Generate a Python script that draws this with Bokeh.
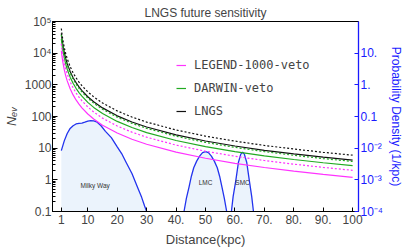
from bokeh.plotting import figure
from bokeh.models import Range1d, LogAxis, FixedTicker, Legend, LegendItem, Label, CustomJSTickFormatter
from bokeh.embed import file_html
from bokeh.resources import INLINE

# ---- data ----
distance = [1, 1.2, 1.5, 2, 2.5, 3, 4, 5, 6, 7, 8, 10, 12, 15, 20, 25, 30, 40, 50, 60, 70, 80, 90, 100]
lngs_dashed = [60000, 41700, 26700, 15000, 9600, 6670, 3750, 2400, 1670, 1220, 940, 600, 417, 267, 150, 96, 66.7, 37.5, 24, 16.7, 12.2, 9.4, 7.4, 6.0]
lngs_solid = [42000, 29200, 18700, 10500, 6720, 4670, 2630, 1680, 1170, 857, 656, 420, 292, 187, 105, 67.2, 46.7, 26.3, 16.8, 11.7, 8.57, 6.56, 5.19, 4.2]
darwin_dashed = [38000, 26400, 16900, 9500, 6080, 4220, 2380, 1520, 1060, 776, 594, 380, 264, 169, 95, 60.8, 42.2, 23.8, 15.2, 10.6, 7.76, 5.94, 4.69, 3.8]
darwin_solid = [28000, 19400, 12400, 7000, 4480, 3110, 1750, 1120, 778, 571, 438, 280, 194, 124, 70, 44.8, 31.1, 17.5, 11.2, 7.78, 5.71, 4.38, 3.46, 2.8]
legend_dashed = [20000, 13900, 8890, 5000, 3200, 2220, 1250, 800, 556, 408, 313, 200, 139, 88.9, 50, 32, 22.2, 12.5, 8, 5.56, 4.08, 3.13, 2.47, 2.0]
legend_solid = [12000, 8330, 5330, 3000, 1920, 1330, 750, 480, 333, 245, 188, 120, 83.3, 53.3, 30, 19.2, 13.3, 7.5, 4.8, 3.33, 2.45, 1.88, 1.48, 1.2]

mw_d = [1, 2, 3, 4, 5, 6, 7, 8, 9, 10, 11, 12, 13, 14.5, 16, 18, 20, 21.5, 23, 25, 27, 28.3, 29.3, 30]
mw_p = [0.0084, 0.017, 0.029, 0.042, 0.051, 0.058, 0.061, 0.062, 0.066, 0.071, 0.074, 0.073, 0.068, 0.051, 0.034, 0.0216, 0.011, 0.00675, 0.0036, 0.00158, 0.00055, 0.00028, 0.00015, 0.0001]
lmc_d = [42.7, 43.5, 44.4, 45.2, 46.0, 47.0, 48.0, 49.0, 50.0, 51.0, 52.0, 53.0, 54.0, 54.8, 55.6, 56.4, 57.2]
lmc_p = [1e-4, 2.6e-4, 5.9e-4, 1.3e-3, 2.4e-3, 3.9e-3, 5.6e-3, 7.2e-3, 7.8e-3, 7.2e-3, 5.6e-3, 3.9e-3, 2.4e-3, 1.3e-3, 5.9e-4, 2.6e-4, 1e-4]
smc_d = [58.8, 59.4, 60.3, 61.2, 62.0, 62.6, 63.2, 64.0, 64.9, 65.7, 66.3]
smc_p = [1e-4, 3.0e-4, 9.5e-4, 3.6e-3, 6.5e-3, 7.4e-3, 6.5e-3, 3.6e-3, 9.5e-4, 3.0e-4, 1e-4]

x_ticks = [1, 10, 20, 30, 40, 50, 60, 70, 80, 90, 100]
x_tick_labels = ["1", "10", "20", "30", "40.", "50", "60.", "70.", "80.", "90.", "100"]
left_ticks = [0.1, 1, 10, 100, 1000, 1e4, 1e5]
left_tick_labels = ["0.1", "1", "10", "100", "1000", "10\u2074", "10\u2075"]
right_ticks = [1e-4, 1e-3, 1e-2, 0.1, 1, 10]
right_tick_labels = ["10\u207b\u2074", "10\u207b\u00b3", "10\u207b\u00b2", "0.1", "1.", "10."]

MAG = "#ff33ff"
GRN = "#22aa22"
BLK = "#111111"
BLU = "#2233ee"
AXBLU = "#1a1aff"
FILL = "#ebf3fc"
FONT = "Liberation Sans"

p = figure(width=407, height=250, x_range=Range1d(-2, 102), y_range=Range1d(0.1, 1e5),
           y_axis_type="log", output_backend="svg", toolbar_location=None,
           min_border_left=49, min_border_right=49, min_border_top=21, min_border_bottom=39)
p.extra_y_ranges = {"right": Range1d(1e-4, 100)}
p.xgrid.visible = False
p.ygrid.visible = False
p.outline_line_color = "black"
p.background_fill_color = "white"

p.title.text = "LNGS future sensitivity"
p.title.align = "center"
p.title.text_font = FONT
p.title.text_font_size = "12px"
p.title.text_font_style = "normal"
p.title.standoff = 3
p.title.offset = 0

def fmt(ticks, labels):
    return CustomJSTickFormatter(args=dict(t=ticks, l=labels), code="""
        for (let i = 0; i < t.length; i++) {
            if (Math.abs(tick - t[i]) <= 1e-6 * Math.abs(t[i])) return l[i];
        }
        return "";
    """)

# shaded density regions (right axis)
p.varea(x=mw_d, y1=1e-4, y2=mw_p, y_range_name="right", fill_color=FILL)
p.varea(x=lmc_d, y1=1e-4, y2=lmc_p, y_range_name="right", fill_color=FILL)
p.varea(x=smc_d, y1=1e-4, y2=smc_p, y_range_name="right", fill_color=FILL)
p.line(mw_d, mw_p, y_range_name="right", line_color=BLU, line_width=1.3)
p.line(lmc_d, lmc_p, y_range_name="right", line_color=BLU, line_width=1.3)
p.line(smc_d, smc_p, y_range_name="right", line_color=BLU, line_width=1.3)

# event curves
p.line(distance, lngs_dashed, line_color=BLK, line_width=1.2, line_dash="2 2")
r_lngs = p.line(distance, lngs_solid, line_color=BLK, line_width=1.2)
p.line(distance, darwin_dashed, line_color=GRN, line_width=1.2, line_dash="2 2")
r_darwin = p.line(distance, darwin_solid, line_color=GRN, line_width=1.2)
p.line(distance, legend_dashed, line_color=MAG, line_width=1.2, line_dash="2 2")
r_legend = p.line(distance, legend_solid, line_color=MAG, line_width=1.2)

for txt, xx, yy in [("Milky Way", 12.5, 0.66), ("LMC", 50, 0.82), ("SMC", 62.6, 0.82)]:
    p.add_layout(Label(x=xx, y=yy, text=txt, text_align="center", text_baseline="middle",
                       text_font=FONT, text_font_size="6.5px", text_color="#333333"))

legend = Legend(items=[LegendItem(label="LEGEND-1000-veto", renderers=[r_legend]),
                       LegendItem(label="DARWIN-veto", renderers=[r_darwin]),
                       LegendItem(label="LNGS", renderers=[r_lngs])],
                location=(124, 90), label_text_font="DejaVu Sans Mono", label_text_font_size="12px",
                glyph_width=10, glyph_height=20, label_height=20, spacing=3, padding=0, margin=0,
                label_standoff=8, background_fill_alpha=0, border_line_alpha=0)
p.add_layout(legend)

# x axis
xa = p.xaxis[0]
xa.ticker = FixedTicker(ticks=x_ticks)
xa.formatter = fmt(x_ticks, x_tick_labels)
xa.axis_label = "Distance(kpc)"
xa.axis_label_text_font = FONT
xa.axis_label_text_font_size = "13px"
xa.axis_label_text_font_style = "normal"
xa.axis_label_standoff = 5
xa.major_label_standoff = 3
xa.major_label_text_font = FONT
xa.major_label_text_font_size = "12px"
xa.major_tick_in = 4
xa.major_tick_out = 0
xa.minor_tick_in = 0
xa.minor_tick_out = 0
xa.axis_line_color = "black"

# left axis
ya = p.yaxis[0]
ya.ticker = FixedTicker(ticks=left_ticks,
                        minor_ticks=[m * 10.0 ** e for e in range(-1, 5) for m in range(2, 10)])
ya.formatter = fmt(left_ticks, left_tick_labels)
ya.axis_label = "N\u2091\u1d65"
ya.axis_label_text_font = FONT
ya.axis_label_text_font_size = "13px"
ya.axis_label_text_font_style = "italic"
ya.axis_label_standoff = 3
ya.major_label_standoff = 1
ya.major_label_text_font = FONT
ya.major_label_text_font_size = "12px"
ya.major_tick_in = 5
ya.major_tick_out = 0
ya.minor_tick_in = 3
ya.minor_tick_out = 0

# right axis
ra = LogAxis(y_range_name="right")
ra.ticker = FixedTicker(ticks=right_ticks)
ra.formatter = fmt(right_ticks, right_tick_labels)
ra.axis_label = "Probability Density (1/kpc)"
ra.axis_label_text_font = FONT
ra.axis_label_text_font_size = "12px"
ra.axis_label_text_font_style = "normal"
ra.axis_label_text_color = AXBLU
ra.axis_label_standoff = 3
ra.major_label_standoff = 2
ra.major_label_text_font = FONT
ra.major_label_text_font_size = "12px"
ra.major_label_text_color = AXBLU
ra.axis_line_color = AXBLU
ra.axis_line_width = 1.3
ra.major_tick_line_color = AXBLU
ra.major_tick_in = 4
ra.major_tick_out = 0
ra.minor_tick_in = 0
ra.minor_tick_out = 0
p.add_layout(ra, "right")

open("out.html", "w").write(file_html(p, INLINE))
